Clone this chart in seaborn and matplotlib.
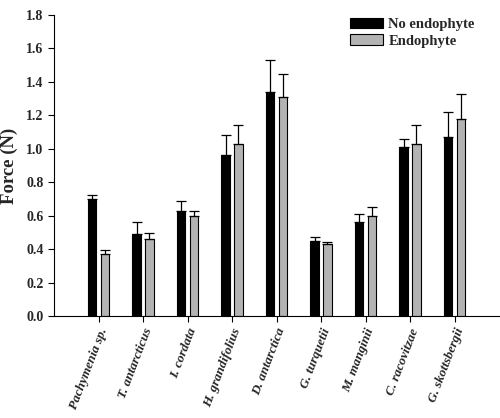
import matplotlib
matplotlib.use("Agg")
import matplotlib.pyplot as plt
import seaborn as sns
import pandas as pd
import numpy as np

species = ["Pachymenia sp.", "T. antarcticus", "I. cordata", "H. grandifolius",
           "D. antarctica", "G. turquetii", "M. manginii", "C. racovitzae", "G. skottsbergii"]
no_endo = [0.70, 0.49, 0.63, 0.96, 1.34, 0.45, 0.56, 1.01, 1.07]
no_endo_err = [0.025, 0.07, 0.06, 0.12, 0.19, 0.02, 0.05, 0.05, 0.15]
endo = [0.37, 0.46, 0.60, 1.03, 1.31, 0.43, 0.60, 1.03, 1.18]
endo_err = [0.025, 0.035, 0.03, 0.11, 0.14, 0.012, 0.05, 0.11, 0.15]
groups = ["No endophyte", "Endophyte"]
yticks = [0.0, 0.2, 0.4, 0.6, 0.8, 1.0, 1.2, 1.4, 1.6, 1.8]

df = pd.DataFrame({
    "species": species * 2,
    "group": [groups[0]] * len(species) + [groups[1]] * len(species),
    "force": no_endo + endo,
    "err": no_endo_err + endo_err,
})

sns.set_style("ticks")
plt.rcParams["font.family"] = ["Liberation Serif", "DejaVu Serif"]
plt.rcParams["font.weight"] = "bold"

fig = plt.figure(figsize=(5.0, 4.18), dpi=100)
ax = fig.add_axes([0.108, 0.244, 0.89, 0.72])

sns.barplot(data=df, x="species", y="force", hue="group", order=species, hue_order=groups,
            palette=["#000000", "#b3b3b3"], width=0.58, gap=0.345, edgecolor="black",
            linewidth=0.8, errorbar=None, ax=ax)

# error bars (upper only) at bar centres
bar_containers = list(ax.containers)
for i, container in enumerate(bar_containers):
    errs = no_endo_err if i == 0 else endo_err
    vals = no_endo if i == 0 else endo
    xs = [p.get_x() + p.get_width() / 2 for p in container.patches]
    ax.errorbar(xs, vals, yerr=[np.zeros(len(vals)), errs], fmt="none",
                ecolor="black", elinewidth=0.9, capsize=3.5, capthick=0.9, zorder=1)

ax.set_xlim(-1, len(species))
ax.set_ylim(0, 1.8)
ax.set_yticks(yticks)
ax.set_yticklabels([f"{t:.1f}" for t in yticks], fontsize=10, fontweight="bold")
ax.set_xticks(range(len(species)))
ax.set_xticklabels(species, rotation=69, ha="right", rotation_mode="anchor",
                   fontsize=9.5, fontweight="bold", fontstyle="italic")
ax.set_xlabel("")
ax.set_ylabel("Force (N)", fontsize=13.5, fontweight="bold", labelpad=6)
ax.tick_params(axis="both", direction="out", length=4, width=0.8, color="black")
for s in ["top", "right"]:
    ax.spines[s].set_visible(False)
for s in ["left", "bottom"]:
    ax.spines[s].set_linewidth(0.8)
    ax.spines[s].set_color("black")

leg = ax.legend(loc="upper right", bbox_to_anchor=(0.975, 1.035), frameon=False,
                prop={"weight": "bold", "size": 10.5}, handlelength=2.2, handleheight=0.7,
                labelspacing=0.25, handletextpad=0.4)

fig.savefig("out.png", dpi=100)
